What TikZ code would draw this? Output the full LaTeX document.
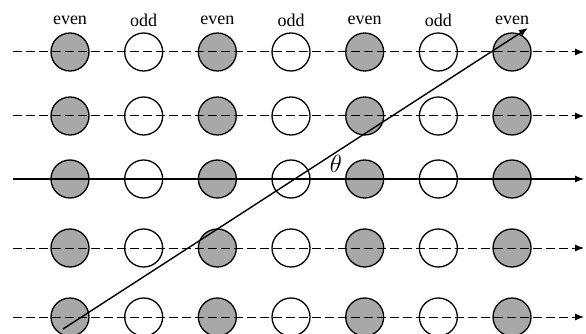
\documentclass[tikz,border=0pt]{standalone}
\usepackage{fontspec}
\setmainfont{Liberation Serif}
\usetikzlibrary{arrows.meta}
\definecolor{dotgray}{RGB}{168,168,168}
\tikzset{
  even dot/.style={circle, draw, line width=1.3pt, fill=dotgray, minimum size=38pt, inner sep=0pt},
  odd dot/.style={circle, draw, line width=1.3pt, fill=white, minimum size=38pt, inner sep=0pt},
  row line/.style={->, line width=1pt, dash pattern=on 9pt off 4pt}
}
\begin{document}
\begin{tikzpicture}[x=1pt, y=-1pt, >={Latex[length=9pt, width=7pt]}, font=\fontsize{18}{20}\selectfont]
	\useasboundingbox (0,0) rectangle (586,334);
	% Gitterpunkte und Beschriftung
	\foreach \c/\typ in {0/even,1/odd,2/even,3/odd,4/even,5/odd,6/even} {
		\node (lab-\c) at (70+73.67*\c,20) {\typ};
		\foreach \r/\y in {1/52,2/116,3/179,4/248,5/317}
			\node[\typ\space dot] (p-\r-\c) at (70+73.67*\c,\y) {};
	}
	% Zeilen
	\foreach \r/\y in {1/52,2/116,3/179,4/248,5/317} {
		\coordinate (l-\r) at (13,\y);
		\coordinate (r-\r) at (584,\y);
	}
	\foreach \r in {1,2,4,5} \draw[row line] (l-\r) -- (r-\r);
	\draw[->, line width=1.1pt] (l-3) -- (r-3);
	% Richtung
	\coordinate (start) at (63,329);
	\coordinate (stop) at (528,28);
	\draw[->, line width=1.4pt] (start) -- (stop);
	\node[font=\fontsize{23}{25}\selectfont] (theta) at (336,164) {$\theta$};
\end{tikzpicture}
\end{document}
